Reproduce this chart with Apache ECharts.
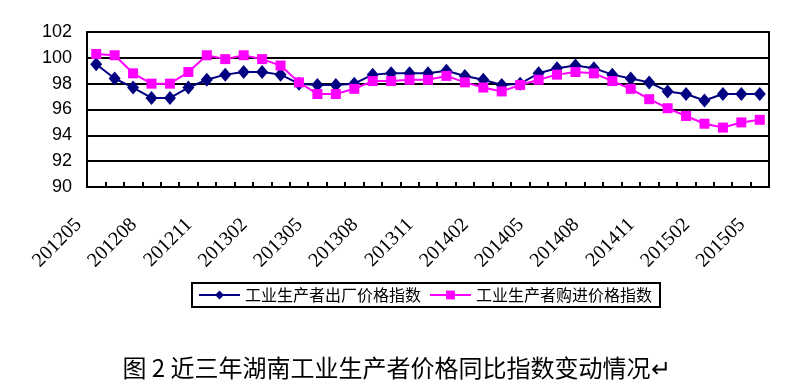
<!DOCTYPE html>
<html>
<head>
<meta charset="utf-8">
<script src="https://cdn.jsdelivr.net/npm/echarts@6/dist/echarts.min.js"></script>
<style>
html,body{margin:0;padding:0;background:#fff;}
#chart{width:793px;height:383px;}
</style>
</head>
<body>
<div id="chart"></div>
<script>
const categories = ['201205','201206','201207','201208','201209','201210','201211','201212',
  '201301','201302','201303','201304','201305','201306','201307','201308','201309','201310','201311','201312',
  '201401','201402','201403','201404','201405','201406','201407','201408','201409','201410','201411','201412',
  '201501','201502','201503','201504','201505'];
const seriesNames = ['工业生产者出厂价格指数', '工业生产者购进价格指数'];
const outPrice = [99.5, 98.4, 97.7, 96.9, 96.9, 97.7, 98.3, 98.7, 98.9, 98.9, 98.7, 98.0, 97.9, 97.9, 98.0, 98.7, 98.8, 98.8, 98.8, 99.0, 98.6, 98.3, 97.9, 98.0, 98.8, 99.2, 99.4, 99.2, 98.7, 98.4, 98.1, 97.4, 97.2, 96.7, 97.2, 97.2, 97.2];
const inPrice = [100.3, 100.2, 98.8, 98.0, 98.0, 98.9, 100.2, 99.9, 100.2, 99.9, 99.4, 98.1, 97.2, 97.2, 97.6, 98.2, 98.2, 98.3, 98.3, 98.6, 98.1, 97.7, 97.4, 97.9, 98.3, 98.7, 98.9, 98.8, 98.2, 97.6, 96.8, 96.1, 95.5, 94.9, 94.6, 95.0, 95.2];
const yMin = 90, yMax = 102, yStep = 2;
const caption = '图 2 近三年湖南工业生产者价格同比指数变动情况↵';

const chart = echarts.init(document.getElementById('chart'), null, {renderer: 'canvas'});
chart.setOption({
  animation: false,
  backgroundColor: '#fff',
  title: {
    text: caption,
    left: 'center',
    top: 351,
    textStyle: {fontFamily: 'Noto Sans CJK SC', fontSize: 24, fontWeight: 'normal', color: '#000'}
  },
  legend: {
    left: 192,
    top: 283,
    width: 470,
    itemWidth: 41,
    itemHeight: 11,
    itemGap: 8,
    padding: [4, 8, 4, 6],
    borderColor: '#000',
    borderWidth: 2,
    textStyle: {fontFamily: 'Noto Sans CJK SC', fontSize: 16, color: '#000'},
    data: seriesNames
  },
  grid: {
    left: 87, right: 24, top: 32, bottom: 196,
    show: true, borderColor: '#000', borderWidth: 2, backgroundColor: '#fff'
  },
  xAxis: {
    type: 'category',
    data: categories,
    boundaryGap: true,
    axisLine: {lineStyle: {color: '#000', width: 2}},
    axisTick: {show: true, inside: true, length: 5, interval: 0, lineStyle: {color: '#000', width: 2}},
    axisLabel: {
      interval: 2, rotate: 45, margin: 17,
      fontFamily: 'Liberation Serif', fontSize: 20, color: '#000',
      padding: [0, 25, 0, 0]
    }
  },
  yAxis: {
    type: 'value',
    min: yMin, max: yMax, interval: yStep,
    axisLine: {show: true, lineStyle: {color: '#000', width: 2}},
    axisTick: {show: false},
    axisLabel: {fontFamily: 'Liberation Sans', fontSize: 18, color: '#000', margin: 15},
    splitLine: {lineStyle: {color: '#000', width: 2}}
  },
  series: [
    {
      name: seriesNames[0], type: 'line', data: outPrice,
      symbol: 'diamond', symbolSize: [12, 14], showAllSymbol: true,
      lineStyle: {color: '#000080', width: 2},
      itemStyle: {color: '#000080'},
      z: 3
    },
    {
      name: seriesNames[1], type: 'line', data: inPrice,
      symbol: 'rect', symbolSize: 10, showAllSymbol: true,
      lineStyle: {color: '#FF00FF', width: 2},
      itemStyle: {color: '#FF00FF'},
      z: 4
    }
  ]
});
</script>
</body>
</html>
